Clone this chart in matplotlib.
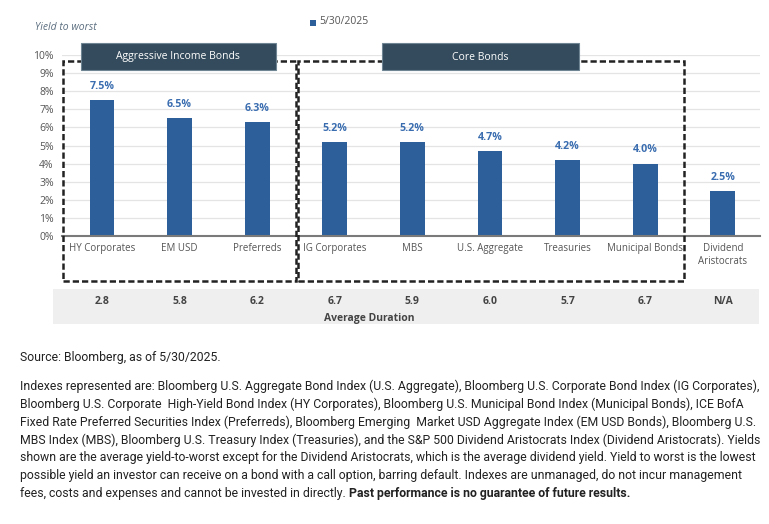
import matplotlib
matplotlib.use("Agg")
from matplotlib import pyplot as plt
from matplotlib.patches import Rectangle
from matplotlib.transforms import blended_transform_factory
from matplotlib import font_manager

# data
categories = ["HY Corporates", "EM USD", "Preferreds", "IG Corporates", "MBS",
              "U.S. Aggregate", "Treasuries", "Municipal Bonds", "Dividend\nAristocrats"]
yields = [7.5, 6.5, 6.3, 5.2, 5.2, 4.7, 4.2, 4.0, 2.5]
durations = ["2.8", "5.8", "6.2", "6.7", "5.9", "6.0", "5.7", "6.7", "N/A"]
groups = [("Aggressive Income Bonds", 0, 2), ("Core Bonds", 3, 7)]
legend_label = "5/30/2025"

source = "Source: Bloomberg, as of 5/30/2025."
notes = [
    "Indexes represented are: Bloomberg U.S. Aggregate Bond Index (U.S. Aggregate), Bloomberg U.S. Corporate Bond Index (IG Corporates),",
    "Bloomberg U.S. Corporate  High-Yield Bond Index (HY Corporates), Bloomberg U.S. Municipal Bond Index (Municipal Bonds), ICE BofA",
    "Fixed Rate Preferred Securities Index (Preferreds), Bloomberg Emerging  Market USD Aggregate Index (EM USD Bonds), Bloomberg U.S.",
    "MBS Index (MBS), Bloomberg U.S. Treasury Index (Treasuries), and the S&P 500 Dividend Aristocrats Index (Dividend Aristocrats). Yields",
    "shown are the average yield-to-worst except for the Dividend Aristocrats, which is the average dividend yield. Yield to worst is the lowest",
    "possible yield an investor can receive on a bond with a call option, barring default. Indexes are unmanaged, do not incur management",
    "fees, costs and expenses and cannot be invested in directly. ",
]
bold_note = "Past performance is no guarantee of future results."

W, H = 769, 524
BAR = "#2d5f9a"
HEAD = "#334b5c"
GREY = "#555555"

plt.rcParams['font.family'] = ['Open Sans', 'DejaVu Sans']
names = {f.name for f in font_manager.fontManager.ttflist}
note_font = ['Liberation Sans Narrow', 'DejaVu Sans'] if 'Liberation Sans Narrow' in names else ['Roboto', 'DejaVu Sans']


def fy(y):
    return 1 - y / H


fig = plt.figure(figsize=(W / 100, H / 100), dpi=100)
ax = fig.add_axes([62 / W, fy(236), (760 - 62) / W, (236 - 55) / H])

x = list(range(len(categories)))
ax.bar(x, yields, width=0.32, color=BAR, zorder=3)
for xi, v in zip(x, yields):
    ax.text(xi, v + 0.45, f"{v:.1f}%", ha="center", va="bottom", fontsize=7.7,
            fontweight="bold", color="#3a6db0")

ax.set_xlim(-0.515, 8.48)
ax.set_ylim(0, 10)
ax.set_yticks(range(0, 11))
ax.set_yticklabels([f"{i}%" for i in range(0, 11)], fontsize=7.5, color=GREY)
ax.set_xticks(x)
ax.set_xticklabels(categories, fontsize=7, color=GREY, linespacing=1.3)
ax.tick_params(axis="both", length=0, pad=6)
ax.tick_params(axis="x", pad=5)
ax.grid(axis="y", color="#e4e4e4", linewidth=0.9, zorder=0)
for s in ["top", "right", "left"]:
    ax.spines[s].set_visible(False)
ax.spines["bottom"].set_color("#7a7a7a")
ax.spines["bottom"].set_linewidth(1.5)
ax.spines["bottom"].set_zorder(4)

tr = blended_transform_factory(ax.transData, fig.transFigure)

# dashed group boxes and headers (header extents in category units)
header_span = {"Aggressive Income Bonds": (-0.27, 2.24), "Core Bonds": (3.61, 6.15)}
for name, a, b in groups:
    x0 = a - 0.5 + (0.0 if a == 0 else 0.03)
    x1 = b + 0.5
    fig.add_artist(Rectangle((x0, fy(281)), x1 - x0, (281 - 61) / H, transform=tr,
                             fill=False, ls=(0, (2.5, 1.2)), lw=1.8, ec="#222222",
                             zorder=5, clip_on=False))
    hx0, hx1 = header_span[name]
    fig.add_artist(Rectangle((hx0, fy(70)), hx1 - hx0, 27 / H, transform=tr,
                             fc=HEAD, ec="#6f8594", lw=0.8, zorder=6, clip_on=False))
    fig.text((hx0 + hx1) / 2, fy(57), name, transform=tr, ha="center", va="center",
             fontsize=7.5, fontweight="medium", color="white", zorder=7)

# average duration band
fig.add_artist(Rectangle((53 / W, fy(324)), (759 - 53) / W, 35 / H,
                         transform=fig.transFigure, fc="#efefef", ec="none", zorder=0))
for xi, d in zip(x, durations):
    fig.text(xi, fy(302), d, transform=tr, ha="center", va="center", fontsize=7.5,
             fontweight="bold", color="#444444")
fig.text(369 / W, fy(319), "Average Duration", ha="center", va="center", fontsize=7.5,
         fontweight="bold", color="#444444")

# legend and axis title
fig.add_artist(Rectangle((310 / W, fy(26)), 6 / W, 6 / H, transform=fig.transFigure,
                         fc=BAR, ec="none"))
fig.text(319 / W, fy(22), legend_label, ha="left", va="center", fontsize=7.5, color=GREY)
fig.text(35 / W, fy(27), "Yield to worst", ha="left", va="center", fontsize=7.5,
         style="italic", color="#5d6f80")

# notes
NS = 8.8
fig.text(20 / W, fy(358), source, ha="left", va="center", fontsize=NS,
         family=note_font, color="#222222")
for i, line in enumerate(notes):
    t = fig.text(20 / W, fy(386 + 18 * i), line, ha="left", va="center", fontsize=NS,
                 family=note_font, color="#222222")
fig.canvas.draw()
bb = t.get_window_extent()
fig.text(bb.x1 / W, fy(386 + 18 * (len(notes) - 1)), bold_note, ha="left", va="center",
         fontsize=NS, family=note_font, fontweight="bold", color="#222222")

plt.savefig("out.png", dpi=100)
